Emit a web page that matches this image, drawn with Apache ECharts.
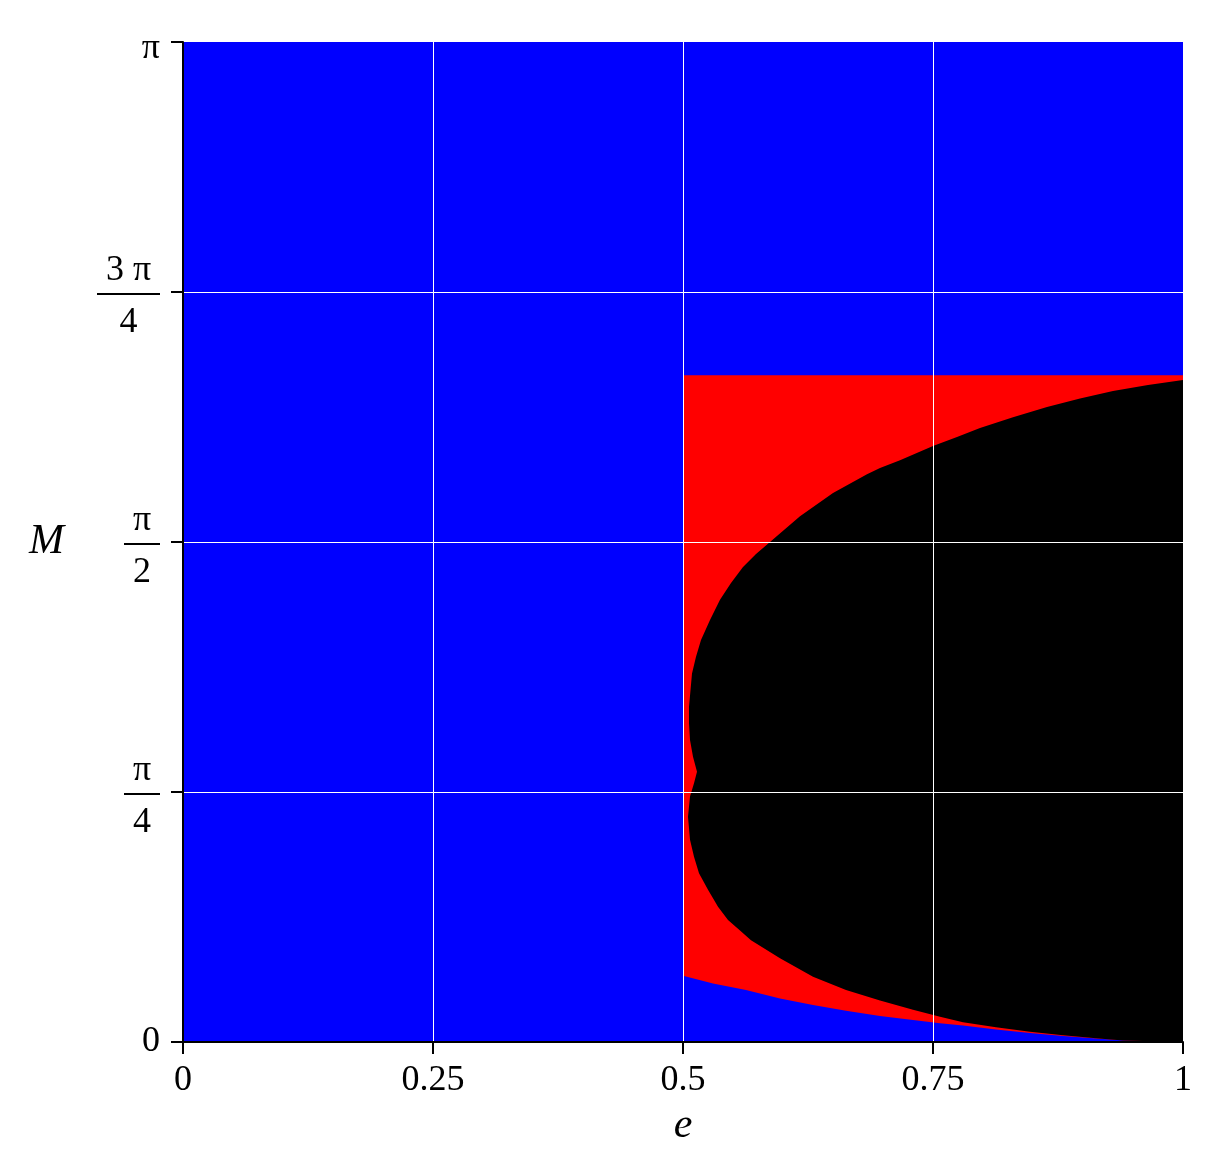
<!DOCTYPE html>
<html>
<head>
<meta charset="utf-8">
<script src="https://cdn.jsdelivr.net/npm/echarts@6/dist/echarts.min.js"></script>
<style>
html,body{margin:0;padding:0;background:#fff;}
#chart{width:1216px;height:1163px;}
</style>
</head>
<body>
<div id="chart"></div>
<script>
// ---- data ----
var xTickLabels = ['0', '0.25', '0.5', '0.75', '1'];
var yTickNumerators = ['0', 'π', 'π', '3 π', 'π'];
var yTickDenominators = ['', '4', '2', '4', ''];

// boundary of black region (e, M), from top-right going round the left bulge to bottom-right
var blackE = [1.0, 0.965, 0.930, 0.897, 0.864, 0.830, 0.797, 0.774, 0.750, 0.717, 0.697, 0.684, 0.650, 0.617, 0.587, 0.573, 0.560, 0.548, 0.537, 0.527, 0.518, 0.513, 0.509, 0.506, 0.506, 0.507, 0.510, 0.514, 0.511, 0.507, 0.505, 0.507, 0.511, 0.516, 0.525, 0.535, 0.545, 0.557, 0.568, 0.597, 0.630, 0.663, 0.697, 0.730, 0.757, 0.780, 0.813, 0.847, 0.880, 0.913, 0.940, 1.0];
var blackM = [2.080, 2.064, 2.045, 2.022, 1.995, 1.963, 1.929, 1.901, 1.872, 1.828, 1.803, 1.784, 1.725, 1.652, 1.571, 1.533, 1.492, 1.442, 1.389, 1.326, 1.263, 1.210, 1.158, 1.053, 1.001, 0.949, 0.896, 0.849, 0.813, 0.771, 0.708, 0.635, 0.582, 0.530, 0.478, 0.425, 0.383, 0.350, 0.320, 0.263, 0.205, 0.163, 0.130, 0.101, 0.0795, 0.0619, 0.0462, 0.0324, 0.0210, 0.0116, 0.0047, 0];

// lower boundary of red region (blue below it)
var lowerE = [0.500, 0.530, 0.563, 0.597, 0.630, 0.663, 0.697, 0.730, 0.757, 0.780, 0.813, 0.847, 0.880, 0.913, 0.942, 1.0];
var lowerM = [0.208, 0.184, 0.163, 0.137, 0.116, 0.098, 0.082, 0.069, 0.059, 0.052, 0.039, 0.028, 0.019, 0.011, 0.0047, 0];

// top of red region
var redTopM = [2 * Math.PI / 3];
var redLeftE = [0.5];

var chart = echarts.init(document.getElementById('chart'), null, {renderer: 'canvas'});

function polygonSeries(name, pts, color, z) {
  return {
    type: 'custom',
    name: name,
    z: z,
    coordinateSystem: 'cartesian2d',
    data: pts,
    clip: true,
    silent: true,
    renderItem: function (params, api) {
      if (params.dataIndex !== 0) return null;
      var points = pts.map(function (p) { return api.coord(p); });
      return {
        type: 'polygon',
        shape: {points: points},
        style: {fill: color, stroke: null}
      };
    }
  };
}

var redPts = [[redLeftE[0], redTopM[0]], [1, redTopM[0]]];
for (var i = lowerE.length - 1; i >= 0; i--) redPts.push([lowerE[i], lowerM[i]]);

var blackPts = [];
for (var j = 0; j < blackE.length; j++) blackPts.push([blackE[j], blackM[j]]);

var serif = 'Liberation Serif, Times New Roman, serif';

var option = {
  animation: false,
  backgroundColor: '#ffffff',
  grid: {
    left: 183, right: 33, top: 42, bottom: 121,
    show: true, backgroundColor: '#0000ff', borderWidth: 0
  },
  xAxis: {
    type: 'value', min: 0, max: 1, interval: 0.25, z: 5,
    name: 'e', nameLocation: 'middle', nameGap: 63,
    nameTextStyle: {fontFamily: serif, fontStyle: 'italic', fontSize: 42, color: '#000'},
    axisLine: {show: true, onZero: false, lineStyle: {color: '#000', width: 2}},
    axisTick: {show: true, length: 12, lineStyle: {color: '#000', width: 2}},
    axisLabel: {
      margin: 21, fontFamily: serif, fontSize: 36, color: '#000',
      formatter: function (v) { return xTickLabels[Math.round(v / 0.25)]; }
    },
    splitLine: {show: true, showMinLine: false, showMaxLine: false, lineStyle: {color: '#ffffff', width: 1}}
  },
  yAxis: {
    type: 'value', min: 0, max: Math.PI, interval: Math.PI / 4, z: 5,
    name: 'M', nameLocation: 'middle', nameGap: 119, nameRotate: 0,
    nameTextStyle: {fontFamily: serif, fontStyle: 'italic', fontSize: 42, color: '#000', align: 'right', verticalAlign: 'middle'},
    axisLine: {show: true, onZero: false, lineStyle: {color: '#000', width: 2}},
    axisTick: {show: true, length: 12, lineStyle: {color: '#000', width: 2}},
    axisLabel: {
      margin: 23, fontFamily: serif, fontSize: 36, color: '#000',
      formatter: function (v) {
        var k = Math.round(v / (Math.PI / 4));
        var n = yTickNumerators[k], d = yTickDenominators[k];
        if (!d) {
          if (k === 0) return '{p|' + n + '}';
          return '{sp|}\n{p|' + n + '}';
        }
        var bar = (n.length > 1) ? 'bw' : 'bn';
        return '{s|}\n{n|' + n + '}\n{' + bar + '|}\n{d|' + d + '}';
      },
      rich: {
        p: {fontFamily: serif, fontSize: 36, color: '#000', lineHeight: 40},
        sp: {width: 1, height: 14, lineHeight: 14},
        s: {width: 1, height: 15, lineHeight: 15},
        n: {fontFamily: serif, fontSize: 36, color: '#000', lineHeight: 44, align: 'center'},
        d: {fontFamily: serif, fontSize: 36, color: '#000', lineHeight: 55, align: 'center'},
        bw: {width: 63, height: 2, lineHeight: 2, backgroundColor: '#000', align: 'center'},
        bn: {width: 36, height: 2, lineHeight: 2, backgroundColor: '#000', align: 'center'}
      }
    },
    splitLine: {show: true, showMinLine: false, showMaxLine: false, lineStyle: {color: '#ffffff', width: 1}}
  },
  series: [
    polygonSeries('red', redPts, '#ff0000', 2),
    polygonSeries('black', blackPts, '#000000', 3)
  ]
};
chart.setOption(option);
</script>
</body>
</html>
